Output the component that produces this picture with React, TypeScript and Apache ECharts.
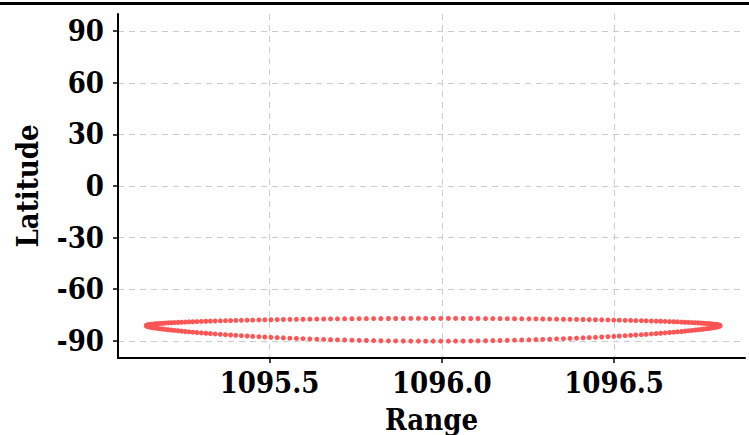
import React, { useEffect, useRef } from "react";
import * as echarts from "echarts";

const rangeSteps = [
  1095.143, 1095.143, 1095.144, 1095.146, 1095.148, 1095.150, 1095.153, 1095.157, 1095.161, 1095.166,
  1095.171, 1095.177, 1095.184, 1095.191, 1095.198, 1095.206, 1095.215, 1095.224, 1095.234, 1095.244,
  1095.255, 1095.266, 1095.277, 1095.289, 1095.302, 1095.315, 1095.328, 1095.342, 1095.357, 1095.372,
  1095.387, 1095.402, 1095.418, 1095.435, 1095.451, 1095.469, 1095.486, 1095.504, 1095.522, 1095.540,
  1095.559, 1095.578, 1095.597, 1095.617, 1095.637, 1095.657, 1095.677, 1095.697, 1095.718, 1095.739,
  1095.760, 1095.781, 1095.802, 1095.823, 1095.845, 1095.866, 1095.888, 1095.910, 1095.932, 1095.953,
  1095.975,
  1095.997, 1096.019, 1096.040, 1096.062, 1096.084, 1096.105, 1096.127, 1096.148, 1096.169, 1096.190,
  1096.211, 1096.232, 1096.253, 1096.273, 1096.293, 1096.313, 1096.333, 1096.353, 1096.372, 1096.391,
  1096.410, 1096.428, 1096.446, 1096.464, 1096.482, 1096.499, 1096.515, 1096.532, 1096.548, 1096.563,
  1096.579, 1096.593, 1096.608, 1096.622, 1096.635, 1096.648, 1096.661, 1096.673, 1096.684, 1096.696,
  1096.706, 1096.716, 1096.726, 1096.735, 1096.744, 1096.752, 1096.759, 1096.766, 1096.773, 1096.779,
  1096.784, 1096.789, 1096.793, 1096.797, 1096.800, 1096.802, 1096.804, 1096.806, 1096.807, 1096.807,
];

const upperLatitudes = [
  -81.20, -81.09, -80.98, -80.87, -80.76, -80.65, -80.54, -80.43, -80.33, -80.22,
  -80.11, -80.01, -79.90, -79.80, -79.69, -79.59, -79.49, -79.39, -79.29, -79.20,
  -79.10, -79.01, -78.91, -78.82, -78.73, -78.64, -78.56, -78.47, -78.39, -78.31,
  -78.23, -78.15, -78.08, -78.01, -77.94, -77.87, -77.80, -77.74, -77.68, -77.62,
  -77.56, -77.51, -77.46, -77.41, -77.36, -77.32, -77.28, -77.24, -77.21, -77.17,
  -77.14, -77.12, -77.09, -77.07, -77.05, -77.04, -77.02, -77.01, -77.01, -77.00,
  -77.00,
  -77.00, -77.01, -77.01, -77.02, -77.04, -77.05, -77.07, -77.09, -77.12, -77.14,
  -77.17, -77.21, -77.24, -77.28, -77.32, -77.36, -77.41, -77.46, -77.51, -77.56,
  -77.62, -77.68, -77.74, -77.80, -77.87, -77.94, -78.01, -78.08, -78.15, -78.23,
  -78.31, -78.39, -78.47, -78.56, -78.64, -78.73, -78.82, -78.91, -79.01, -79.10,
  -79.20, -79.29, -79.39, -79.49, -79.59, -79.69, -79.80, -79.90, -80.01, -80.11,
  -80.22, -80.33, -80.43, -80.54, -80.65, -80.76, -80.87, -80.98, -81.09, -81.20,
];

const lowerLatitudes = [
  -81.20, -81.32, -81.45, -81.58, -81.72, -81.86, -82.01, -82.17, -82.33, -82.50,
  -82.67, -82.84, -83.02, -83.20, -83.39, -83.58, -83.77, -83.97, -84.17, -84.37,
  -84.58, -84.78, -84.99, -85.19, -85.40, -85.61, -85.81, -86.02, -86.23, -86.43,
  -86.63, -86.83, -87.03, -87.22, -87.42, -87.60, -87.79, -87.96, -88.14, -88.31,
  -88.47, -88.63, -88.78, -88.93, -89.07, -89.20, -89.32, -89.44, -89.55, -89.65,
  -89.75, -89.83, -89.91, -89.98, -90.03, -90.08, -90.13, -90.16, -90.18, -90.20,
  -90.20,
  -90.20, -90.18, -90.16, -90.13, -90.08, -90.03, -89.98, -89.91, -89.83, -89.75,
  -89.65, -89.55, -89.44, -89.32, -89.20, -89.07, -88.93, -88.78, -88.63, -88.47,
  -88.31, -88.14, -87.96, -87.79, -87.60, -87.42, -87.22, -87.03, -86.83, -86.63,
  -86.43, -86.23, -86.02, -85.81, -85.61, -85.40, -85.19, -84.99, -84.78, -84.58,
  -84.37, -84.17, -83.97, -83.77, -83.58, -83.39, -83.20, -83.02, -82.84, -82.67,
  -82.50, -82.33, -82.17, -82.01, -81.86, -81.72, -81.58, -81.45, -81.32, -81.20,
];

const latitudeTicks = [-90, -60, -30, 0, 30, 60, 90];
const rangeTicks = [1095.5, 1096.0, 1096.5];

export default function App() {
  const ref = useRef<HTMLDivElement>(null);

  useEffect(() => {
    if (!ref.current) return;
    const chart = echarts.init(ref.current, null, { renderer: "svg" });
    const font = "'DejaVu Serif Condensed', 'DejaVu Serif', serif";
    const points = [
      ...rangeSteps.map((r, i) => [r, upperLatitudes[i]]),
      ...rangeSteps.map((r, i) => [r, lowerLatitudes[i]]),
    ];
    chart.setOption({
      animation: false,
      backgroundColor: "#ffffff",
      grid: { left: 118, right: 4, top: 14, bottom: 77, outerBoundsMode: "none" },
      xAxis: {
        type: "value",
        min: 1095.06,
        max: 1096.88,
        name: "Range",
        nameLocation: "middle",
        nameGap: 47,
        nameTextStyle: { fontFamily: font, fontWeight: "bold", fontSize: 29, color: "#000" },
        axisLine: { show: true, onZero: false, lineStyle: { color: "#000", width: 2 } },
        axisTick: { show: true, length: 5, customValues: rangeTicks, lineStyle: { color: "#000", width: 1.5 } },
        axisLabel: {
          customValues: rangeTicks,
          margin: 10,
          fontFamily: font,
          fontWeight: "bold",
          fontSize: 29,
          color: "#000",
          formatter: (v: number) => v.toFixed(1),
        },
        splitLine: { show: true, lineStyle: { color: "#cccccc", type: [6, 5], width: 1 } },
      },
      yAxis: {
        type: "value",
        min: -100,
        max: 100,
        name: "Latitude",
        nameLocation: "middle",
        nameGap: 76,
        nameTextStyle: { fontFamily: font, fontWeight: "bold", fontSize: 29, color: "#000" },
        axisLine: { show: true, onZero: false, lineStyle: { color: "#000", width: 2 } },
        axisTick: { show: true, length: 5, customValues: latitudeTicks, lineStyle: { color: "#000", width: 1.5 } },
        axisLabel: {
          customValues: latitudeTicks,
          margin: 14,
          fontFamily: font,
          fontWeight: "bold",
          fontSize: 29,
          color: "#000",
        },
        splitLine: { show: true, lineStyle: { color: "#cccccc", type: [6, 5], width: 1 } },
      },
      graphic: [
        {
          type: "line",
          shape: { x1: 0, y1: 3.5, x2: 749, y2: 3.5 },
          style: { stroke: "#000", lineWidth: 3 },
        },
      ],
      series: [
        {
          type: "scatter",
          data: points,
          symbolSize: 5,
          itemStyle: { color: "#ff5555", opacity: 1 },
        },
      ],
    });
    return () => chart.dispose();
  }, []);

  return (
    <div
      ref={ref}
      style={{ position: "fixed", left: 0, top: 0, width: 749, height: 435 }}
    />
  );
}
